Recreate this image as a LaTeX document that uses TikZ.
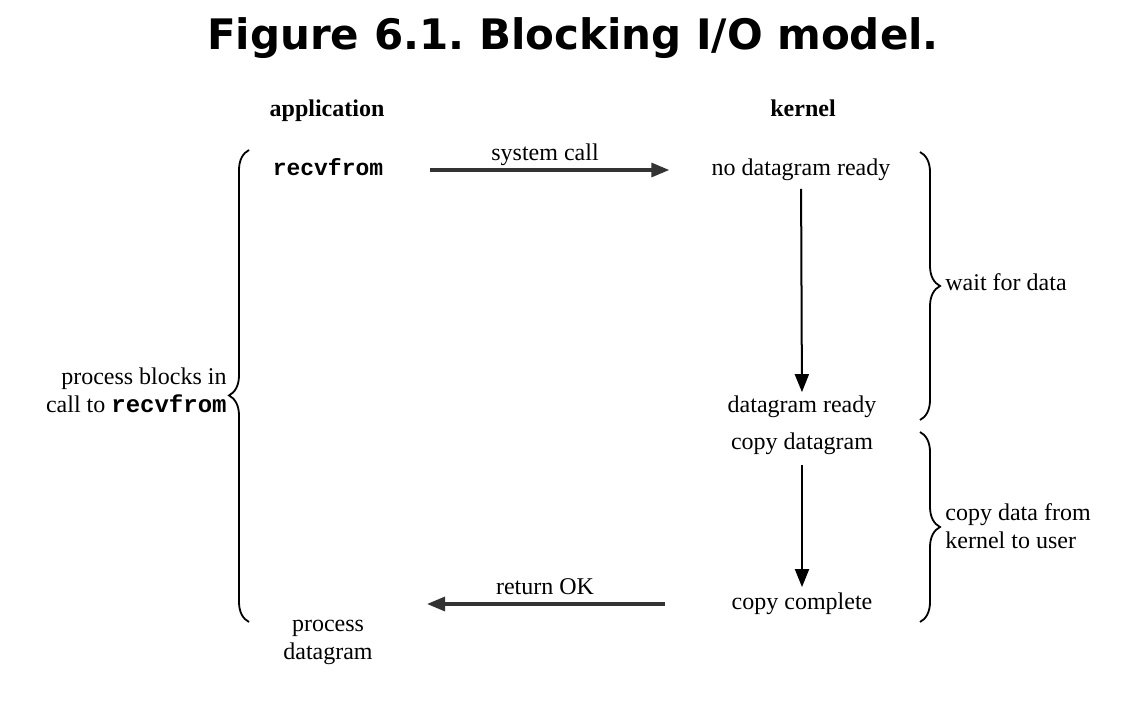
\documentclass[tikz,border=0pt]{standalone}
\usepackage{fontspec}
\setmainfont{Liberation Serif}
\setmonofont{Liberation Mono}
\newfontfamily\titlefont{DejaVu Sans}
\frenchspacing
\usetikzlibrary{arrows.meta,decorations.pathreplacing}

\begin{document}
\begin{tikzpicture}[x=0.5pt,y=-0.5pt,
    txt/.style={inner sep=0pt,text height=8pt,text depth=2.5pt,font=\fontsize{12}{14}\selectfont},
    lines/.style={inner sep=0pt,font=\fontsize{12}{14}\selectfont},
    head/.style={txt,font=\fontsize{12}{14}\selectfont\bfseries},
    code/.style={txt,font=\fontsize{11.5}{14}\selectfont\ttfamily\bfseries},
    call/.style={-{Triangle[length=9pt,width=7pt]},line width=1.6pt,black!80},
    flow/.style={-{Triangle[length=9pt,width=7pt]},line width=1pt},
    curly/.style={decorate,decoration={brace,amplitude=10pt},line width=0.9pt}]
    \useasboundingbox (0,0) rectangle (1134,706);

    % title
    \node[font=\titlefont\bfseries\fontsize{21}{24}\selectfont] (title) at (573,38) {Figure 6.1. Blocking I/O model.};

    % column heads
    \node[head] (app) at (327,111) {application};
    \node[head] (kern) at (803,111) {kernel};

    % application side
    \node[code] (recv) at (328,170) {recvfrom};
    \node[lines,align=center] (procdg) at (328,642) {process\\datagram};

    % kernel side
    \node[txt] (nodata) at (801,170) {no datagram ready};
    \node[txt] (dready) at (802,407) {datagram ready};
    \node[txt] (cdgram) at (802,444) {copy datagram};
    \node[txt] (cdone) at (802,604) {copy complete};
    \coordinate (retend) at (427,604);

    % calls between the two sides
    \draw[call,shorten <=23pt,shorten >=21pt] (recv) -- (nodata);
    \node[txt] (sysc) at (545,155) {system call};
    \draw[call,shorten <=33pt] (cdone) -- (retend);
    \node[txt] (retok) at (545,589) {return OK};

    % kernel steps
    \draw[flow,shorten <=4pt,shorten >=2pt] (nodata) -- (dready);
    \draw[flow,shorten <=5pt,shorten >=3pt] (cdgram) -- (cdone);

    % braces
    \coordinate (ltop) at (249,150);
    \coordinate (lbot) at (249,622);
    \coordinate (wtop) at (920,152);
    \coordinate (wbot) at (920,420);
    \coordinate (ctop) at (920,432);
    \coordinate (cbot) at (920,622);
    \draw[curly,decoration={aspect=0.48}] (lbot) -- (ltop);
    \node[lines,align=right,anchor=east] (blocks) at (227,390) {process blocks in\\call to \texttt{\bfseries recvfrom}};
    \draw[curly] (wtop) -- (wbot);
    \node[txt,anchor=west] (wait) at (945,285) {wait for data};
    \draw[curly] (ctop) -- (cbot);
    \node[lines,align=left,anchor=west] (copy) at (945,526) {copy data from\\kernel to user};
\end{tikzpicture}
\end{document}
